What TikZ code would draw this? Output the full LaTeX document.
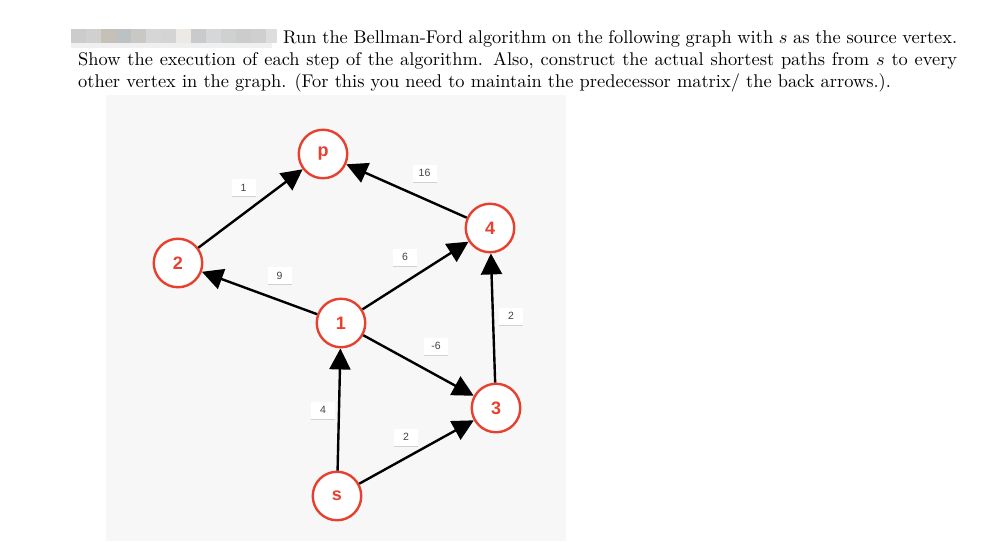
\documentclass[tikz,border=0pt]{standalone}
\usepackage{fontspec}
\usetikzlibrary{arrows.meta,shadows}
\newfontfamily\lsans{Liberation Sans}
\definecolor{nodered}{HTML}{E8402F}
\definecolor{panel}{HTML}{F7F7F7}
\definecolor{labtxt}{HTML}{444444}
\tikzset{
  vtx/.style={circle, draw=nodered, line width=2.4pt, fill=white, minimum size=48.5pt, inner sep=0pt,
    font=\lsans\bfseries\fontsize{18}{18}\selectfont, text=nodered},
  ed/.style={line width=2.4pt, -{Triangle[length=21pt,width=21pt]}},
  wlab/.style={fill=white, minimum width=24pt, minimum height=17pt, inner sep=0pt,
    font=\lsans\fontsize{10.5}{10.5}\selectfont, text=labtxt,
    drop shadow={shadow xshift=0pt, shadow yshift=-1.2pt, opacity=0.15, fill=black}},
  txt/.style={anchor=base west, inner sep=0pt, font=\fontsize{10}{12}\selectfont}
}
\begin{document}
\begin{tikzpicture}[x=1pt,y=-1pt]
\useasboundingbox (0,0) rectangle (1001,541);
\fill[white] (0,0) rectangle (1001,541);
% redaction blocks
\fill[color={rgb,255:red,240;green,240;blue,240}] (71,42.5) rectangle (272,48);
\fill[color={rgb,255:red,204;green,204;blue,204}] (71,29.3) rectangle (86,42.7);
\fill[color={rgb,255:red,208;green,208;blue,208}] (86,29.3) rectangle (101,42.7);
\fill[color={rgb,255:red,197;green,192;blue,184}] (101,29.3) rectangle (116,42.7);
\fill[color={rgb,255:red,188;green,194;blue,196}] (116,29.3) rectangle (131,42.7);
\fill[color={rgb,255:red,200;green,200;blue,196}] (131,29.3) rectangle (146,42.7);
\fill[color={rgb,255:red,214;green,214;blue,214}] (146,29.3) rectangle (161,42.7);
\fill[color={rgb,255:red,212;green,212;blue,212}] (161,29.3) rectangle (176,42.7);
\fill[color={rgb,255:red,237;green,234;blue,230}] (176,29.3) rectangle (191,42.7);
\fill[color={rgb,255:red,201;green,202;blue,204}] (191,29.3) rectangle (206,42.7);
\fill[color={rgb,255:red,213;green,215;blue,217}] (206,29.3) rectangle (221,42.7);
\fill[color={rgb,255:red,207;green,208;blue,208}] (221,29.3) rectangle (236,42.7);
\fill[color={rgb,255:red,204;green,204;blue,204}] (236,29.3) rectangle (251,42.7);
\fill[color={rgb,255:red,207;green,207;blue,207}] (251,29.3) rectangle (266,42.7);
\fill[color={rgb,255:red,221;green,221;blue,221}] (266,29.3) rectangle (277,42.7);
% text
\node[txt] (l1) at (283,43) {\scalebox{1.84}{\makebox[366.3pt][s]{Run the Bellman-Ford algorithm on the following graph with $s$ as the source vertex.}}};
\node[txt] (l2) at (78,65) {\scalebox{1.84}{\makebox[477.7pt][s]{Show the execution of each step of the algorithm. Also, construct the actual shortest paths from $s$ to every}}};
\node[txt] (l3) at (78,87) {\scalebox{1.84}{other vertex in the graph. (For this you need to maintain the predecessor matrix/ the back arrows.).}};
% panel
\fill[panel] (106,95) rectangle (566,541);
% vertices
\node[vtx] (p) at (323,154) {p};
\node[vtx] (v2) at (178,263) {2};
\node[vtx] (v4) at (490,228) {4};
\node[vtx] (v1) at (341,323) {1};
\node[vtx] (v3) at (496,408) {3};
\node[vtx] (s) at (337,496) {s};
% edges
\draw[ed] (v2) -- (p);
\draw[ed] (v1) -- (v2);
\draw[ed] (v4) -- (p);
\draw[ed] (v1) -- (v4);
\draw[ed] (v3) -- (v4);
\draw[ed] (v1) -- (v3);
\draw[ed] (s) -- (v1);
\draw[ed] (s) -- (v3);
% weights
\node[wlab] (w1) at (243.5,187.5) {1};
\node[wlab] (w9) at (279.5,275.5) {9};
\node[wlab] (w16) at (424.5,173) {16};
\node[wlab] (w6) at (405,257) {6};
\node[wlab] (w2a) at (511,316) {2};
\node[wlab] (wm6) at (436,346) {-6};
\node[wlab] (w4) at (323,410) {4};
\node[wlab] (w2b) at (406,437) {2};
\end{tikzpicture}
\end{document}
